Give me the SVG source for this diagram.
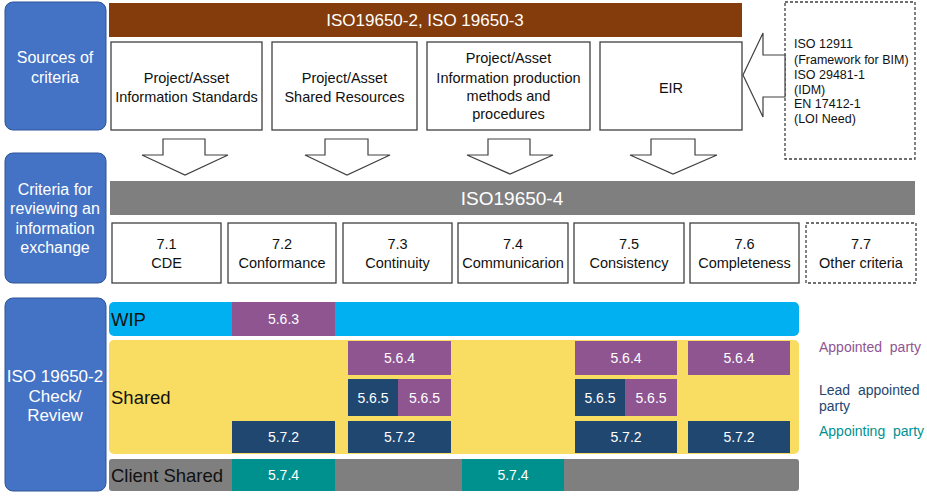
<svg xmlns="http://www.w3.org/2000/svg" width="927" height="498" viewBox="0 0 927 498">
<style>
text{font-family:"Liberation Sans",Arial,sans-serif}
.side{fill:#4472C4;stroke:#2F5597;stroke-width:1}
.sideT{fill:#fff;font-size:16px;text-anchor:middle}
.wbox{fill:#fff;stroke:#404040;stroke-width:1.3}
.dbox{fill:#fff;stroke:#404040;stroke-width:1.3;stroke-dasharray:3 2}
.wT{fill:#111;font-size:14.5px;text-anchor:middle}
.arrow{fill:#fff;stroke:#404040;stroke-width:1.2;stroke-linejoin:miter}
.cell{fill:#fff;font-size:14px;text-anchor:middle}
.pur{fill:#8E5591}
.navy{fill:#1F4770}
.teal{fill:#00918F}
.rowT{fill:#111;font-size:18.5px}
.leg{font-size:14px}
.ds{font-size:12.5px;fill:#111}
</style>

<g id="sources-label">
<rect class="side" x="5" y="2" width="101" height="128" rx="8"/>
<text class="sideT" x="55" y="63">Sources of</text>
<text class="sideT" x="55" y="83">criteria</text>
</g>
<g id="criteria-label">
<rect class="side" x="5" y="153" width="101" height="130" rx="8"/>
<text class="sideT" x="55" y="195">Criteria for</text>
<text class="sideT" x="55" y="214">reviewing an</text>
<text class="sideT" x="55" y="234">information</text>
<text class="sideT" x="55" y="253">exchange</text>
</g>
<g id="check-label">
<rect class="side" x="5" y="298" width="101" height="193" rx="8"/>
<text class="sideT" x="55" y="382" style="font-size:17px">ISO 19650-2</text>
<text class="sideT" x="55" y="402" style="font-size:17px">Check/</text>
<text class="sideT" x="55" y="421" style="font-size:17px">Review</text>
</g>

<g id="iso-2-3">
<rect x="109" y="3" width="633" height="34" fill="#843C0C"/>
<text x="425" y="26" fill="#fff" font-size="17" text-anchor="middle">ISO19650-2, ISO 19650-3</text>
</g>

<g id="src-standards">
<rect class="wbox" x="111" y="42" width="151" height="88"/>
<text class="wT" x="186.5" y="83">Project/Asset</text>
<text class="wT" x="186.5" y="102">Information Standards</text>
</g>
<g id="src-shared">
<rect class="wbox" x="272" y="42" width="145" height="88"/>
<text class="wT" x="344.5" y="83">Project/Asset</text>
<text class="wT" x="344.5" y="102">Shared Resources</text>
</g>
<g id="src-methods">
<rect class="wbox" x="427" y="42" width="163" height="88"/>
<text class="wT" x="508.5" y="63">Project/Asset</text>
<text class="wT" x="508.5" y="83">Information production</text>
<text class="wT" x="508.5" y="101">methods and</text>
<text class="wT" x="508.5" y="119">procedures</text>
</g>
<g id="src-eir">
<rect class="wbox" x="600" y="42" width="142" height="88"/>
<text class="wT" x="671" y="93">EIR</text>
</g>
<g id="other-standards">
<rect class="dbox" x="785" y="2" width="130" height="157"/>
<text class="ds" x="794" y="48">ISO 12911</text>
<text class="ds" x="794" y="64">(Framework for BIM)</text>
<text class="ds" x="794" y="79">ISO 29481-1</text>
<text class="ds" x="794" y="94">(IDM)</text>
<text class="ds" x="794" y="108">EN 17412-1</text>
<text class="ds" x="794" y="123">(LOI Need)</text>
</g>

<g id="connectors">
<polygon class="arrow" points="785,55 763,55 763,33 743,75 763,117 763,97 785,97"/>
<polygon class="arrow" points="163,139 205,139 205,155 228,155 185,175 142,155 163,155"/>
<polygon class="arrow" points="325,139 368,139 368,155 390,155 347,175 305,155 325,155"/>
<polygon class="arrow" points="488,139 530,139 530,155 553,155 510,174 467,155 488,155"/>
<polygon class="arrow" points="651,139 695,139 695,155 717,155 673,174 630,155 651,155"/>
</g>

<g id="iso-4">
<rect x="110" y="181" width="805" height="34" fill="#7F7F7F"/>
<text x="512" y="205" fill="#fff" font-size="19" text-anchor="middle">ISO19650-4</text>
</g>

<g id="c71"><rect class="wbox" x="112" y="223" width="109" height="60"/><text class="wT" x="166.5" y="249">7.1</text><text class="wT" x="166.5" y="268">CDE</text></g>
<g id="c72"><rect class="wbox" x="228" y="223" width="108" height="60"/><text class="wT" x="282" y="249">7.2</text><text class="wT" x="282" y="268">Conformance</text></g>
<g id="c73"><rect class="wbox" x="343" y="223" width="109" height="60"/><text class="wT" x="397.5" y="249">7.3</text><text class="wT" x="397.5" y="268">Continuity</text></g>
<g id="c74"><rect class="wbox" x="458" y="223" width="110" height="60"/><text class="wT" x="513" y="249">7.4</text><text class="wT" x="513" y="268">Communicarion</text></g>
<g id="c75"><rect class="wbox" x="574" y="223" width="110" height="60"/><text class="wT" x="629" y="249">7.5</text><text class="wT" x="629" y="268">Consistency</text></g>
<g id="c76"><rect class="wbox" x="690" y="223" width="109" height="60"/><text class="wT" x="744.5" y="249">7.6</text><text class="wT" x="744.5" y="268">Completeness</text></g>
<g id="c77"><rect class="dbox" x="806" y="223" width="110" height="60"/><text class="wT" x="861" y="249">7.7</text><text class="wT" x="861" y="268">Other criteria</text></g>

<g id="wip">
<rect x="109" y="302" width="690" height="34" rx="5" fill="#00B0F0"/>
<text class="rowT" x="111" y="326">WIP</text>
<rect class="pur" x="232" y="302" width="103" height="34"/>
<text class="cell" x="283.5" y="324">5.6.3</text>
</g>

<g id="shared">
<rect x="109" y="340" width="690" height="114" rx="5" fill="#F9DC62"/>
<text class="rowT" x="111" y="404">Shared</text>
<rect class="pur" x="348" y="341" width="103" height="34"/>
<text class="cell" x="399.5" y="363">5.6.4</text>
<rect class="navy" x="348" y="379" width="50" height="37"/>
<text class="cell" x="373" y="403">5.6.5</text>
<rect class="pur" x="398" y="379" width="53" height="37"/>
<text class="cell" x="424.5" y="403">5.6.5</text>
<rect class="navy" x="232" y="421" width="103" height="32"/>
<text class="cell" x="283.5" y="442">5.7.2</text>
<rect class="navy" x="348" y="421" width="103" height="32"/>
<text class="cell" x="399.5" y="442">5.7.2</text>
<rect class="pur" x="575" y="341" width="102" height="34"/>
<text class="cell" x="626" y="363">5.6.4</text>
<rect class="pur" x="688" y="341" width="102" height="34"/>
<text class="cell" x="739" y="363">5.6.4</text>
<rect class="navy" x="575" y="379" width="50" height="37"/>
<text class="cell" x="600" y="403">5.6.5</text>
<rect class="pur" x="625" y="379" width="52" height="37"/>
<text class="cell" x="651" y="403">5.6.5</text>
<rect class="navy" x="575" y="421" width="102" height="32"/>
<text class="cell" x="626" y="442">5.7.2</text>
<rect class="navy" x="688" y="421" width="102" height="32"/>
<text class="cell" x="739" y="442">5.7.2</text>
</g>

<g id="client-shared">
<rect x="109" y="459" width="690" height="32" rx="3" fill="#7F7F7F"/>
<text class="rowT" x="111" y="482">Client Shared</text>
<rect class="teal" x="232" y="459" width="103" height="32"/>
<text class="cell" x="283.5" y="480">5.7.4</text>
<rect class="teal" x="462" y="459" width="102" height="32"/>
<text class="cell" x="513" y="480">5.7.4</text>
</g>

<g id="legend">
<text class="leg" x="819" y="352" fill="#8E5591" xml:space="preserve">Appointed  party</text>
<text class="leg" x="819" y="395" fill="#1F4770" xml:space="preserve">Lead  appointed</text>
<text class="leg" x="819" y="411" fill="#1F4770">party</text>
<text class="leg" x="819" y="436" fill="#00918F" xml:space="preserve">Appointing  party</text>
</g>
</svg>
